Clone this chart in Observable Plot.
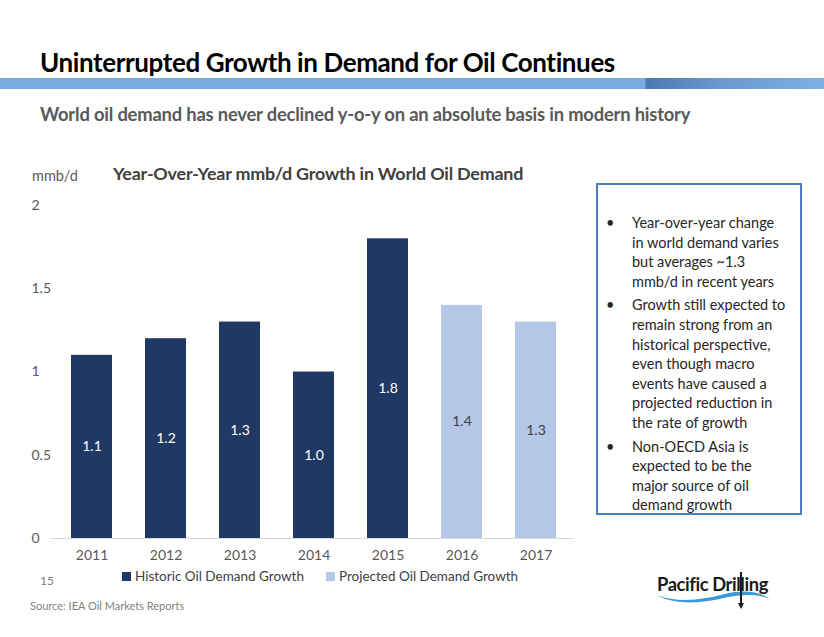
<!DOCTYPE html>
<html>
<head>
<meta charset="utf-8">
<script src="https://cdn.jsdelivr.net/npm/d3@7"></script>
<script src="https://cdn.jsdelivr.net/npm/@observablehq/plot@0.6"></script>
<style>
  html, body { margin: 0; padding: 0; background: #fff; }
  body { width: 824px; height: 637px; position: relative; overflow: hidden; font-family: Lato, "Open Sans", sans-serif; }
  .abs { position: absolute; white-space: nowrap; }
  #title { left: 40px; top: 46px; font-size: 26px; font-weight: bold; color: #000; letter-spacing: -0.4px; }
  #band { left: 0; top: 78px; width: 824px; height: 11px;
    background: linear-gradient(to right, #7aaadf 0px, #7aaadf 645px, #4d79b3 646px, #6a98cf 720px, #80b0e2 824px); }
  #subtitle { left: 40px; top: 103px; font-size: 18.4px; font-weight: bold; color: #595959; letter-spacing: -0.2px; }
  #unit { left: 32px; top: 167px; font-size: 14.5px; color: #595959; }
  #ctitle { left: 113px; top: 162px; font-size: 17.9px; font-weight: bold; color: #404040; letter-spacing: -0.2px; }
  #chart { left: 0; top: 190px; }
  #legend { left: 122px; top: 568px; font-size: 13.5px; color: #404040; display: flex; gap: 22px; }
  #legend span.sw { display: inline-block; width: 9px; height: 9px; margin-right: 4px; vertical-align: 0px; }
  #page { left: 40px; top: 573px; font-size: 12px; color: #7f7f7f; }
  #source { left: 30px; top: 599px; font-size: 11px; color: #7f7f7f; }
  #box { left: 596px; top: 183px; width: 202px; height: 328px; border: 2px solid #4a7ebf; box-sizing: content-box; }
  #box ul { margin: 0; padding: 0; list-style: none; position: absolute; left: 8px; top: 28px; width: 182px; }
  #box li { position: relative; padding-left: 26px; font-size: 14.5px; line-height: 19.6px; color: #262626; margin-bottom: 4px; white-space: normal; }
  #box li::before { content: "•"; position: absolute; left: 0; top: 0; }
  #logo { left: 650px; top: 566px; }
</style>
</head>
<body>
<div id="title" class="abs">Uninterrupted Growth in Demand for Oil Continues</div>
<div id="band" class="abs"></div>
<div id="subtitle" class="abs">World oil demand has never declined y-o-y on an absolute basis in modern history</div>
<div id="unit" class="abs">mmb/d</div>
<div id="ctitle" class="abs">Year-Over-Year mmb/d Growth in World Oil Demand</div>
<div id="chart" class="abs"></div>
<div id="legend" class="abs"></div>
<div id="page" class="abs">15</div>
<div id="source" class="abs">Source: IEA Oil Markets Reports</div>
<div id="box" class="abs"><ul id="bullets"></ul></div>
<svg id="logo" class="abs" width="130" height="50" viewBox="0 0 130 50">
  <path d="M6,29 C30,38 55,33 75,28 C95,23 110,26 120,33 C108,28 95,28 78,31 C55,37 28,40 6,29 Z" fill="#3a9ad9"/>
  <text x="7" y="25" font-family="Lato, sans-serif" font-weight="bold" font-size="18" fill="#1a1a1a" letter-spacing="-0.4" textLength="111" lengthAdjust="spacingAndGlyphs">Pacific Drilling</text>
  <rect x="90" y="6" width="2" height="33" fill="#1a1a1a"/>
  <path d="M88,37 L94,37 L91,43 Z" fill="#1a1a1a"/>
</svg>
<script>
const years = ["2011", "2012", "2013", "2014", "2015", "2016", "2017"];
const growth = [1.1, 1.2, 1.3, 1.0, 1.8, 1.4, 1.3];
const seriesNames = ["Historic Oil Demand Growth", "Historic Oil Demand Growth", "Historic Oil Demand Growth", "Historic Oil Demand Growth", "Historic Oil Demand Growth", "Projected Oil Demand Growth", "Projected Oil Demand Growth"];
const legendNames = ["Historic Oil Demand Growth", "Projected Oil Demand Growth"];
const legendColors = ["#1f3864", "#b4c7e7"];
const labelColors = ["#ffffff", "#404040"];
const yTicks = [0, 0.5, 1, 1.5, 2];
const bullets = [
  "Year-over-year change in world demand varies but averages ~1.3 mmb/d in recent years",
  "Growth still expected to remain strong from an historical perspective, even though macro events have caused a projected reduction in the rate of growth",
  "Non-OECD Asia is expected to be the major source of oil demand growth"
];

const data = years.map((y, i) => ({year: y, value: growth[i], series: seriesNames[i]}));

const chart = Plot.plot({
  width: 590,
  height: 390,
  marginLeft: 53,
  marginRight: 16,
  marginTop: 15,
  marginBottom: 42,
  style: {fontFamily: "Lato, 'Open Sans', sans-serif", background: "transparent"},
  x: {domain: years, paddingInner: 0.44, paddingOuter: 0.22, label: null},
  y: {domain: [0, 2], label: null},
  color: {domain: legendNames, range: legendColors},
  marks: [
    Plot.ruleY([0], {stroke: "#d9d9d9", strokeWidth: 1, insetLeft: -3}),
    Plot.barY(data, {x: "year", y: "value", fill: "series"}),
    Plot.text(data, {
      x: "year", y: d => d.value / 2, text: d => d.value.toFixed(1),
      fill: d => labelColors[legendNames.indexOf(d.series)],
      fontSize: 14
    }),
    Plot.axisX({tickSize: 0, tickPadding: 12, fontSize: 14, fill: "#595959", label: null}),
    Plot.axisY({ticks: yTicks, tickSize: 0, tickPadding: 0, textAnchor: "start", dx: -22, fontSize: 14, fill: "#595959", label: null, tickFormat: d => String(d)})
  ]
});
document.getElementById("chart").appendChild(chart);

const legend = document.getElementById("legend");
legendNames.forEach((n, i) => {
  const item = document.createElement("div");
  item.innerHTML = `<span class="sw" style="background:${legendColors[i]}"></span>${n}`;
  legend.appendChild(item);
});

const ul = document.getElementById("bullets");
bullets.forEach(b => {
  const li = document.createElement("li");
  li.textContent = b;
  ul.appendChild(li);
});
</script>
</body>
</html>
